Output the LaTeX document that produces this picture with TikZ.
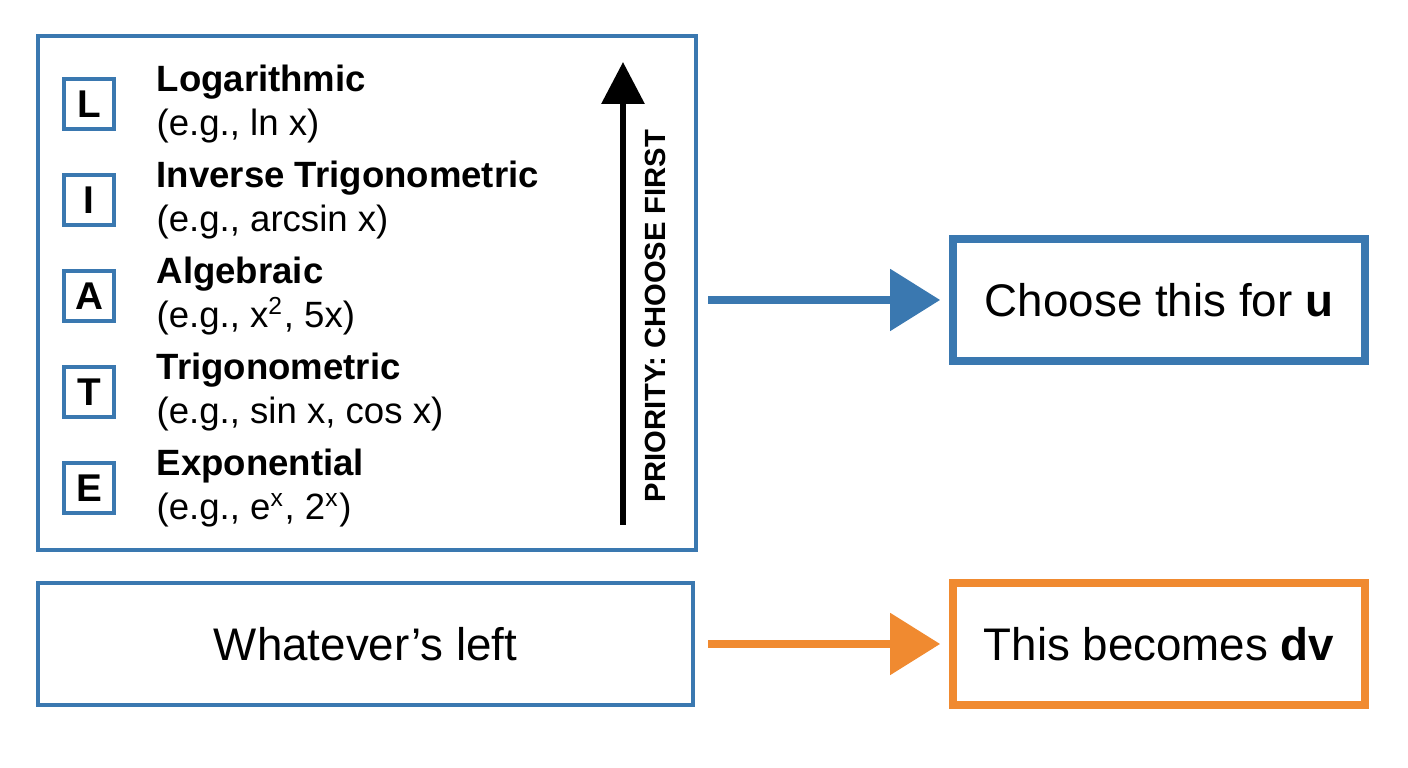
\documentclass[tikz,border=0pt]{standalone}
\usepackage{fontspec}
\setmainfont{Liberation Sans}
\usetikzlibrary{arrows.meta,positioning}
\definecolor{liateblue}{HTML}{3A78B0}
\definecolor{liateorange}{HTML}{F08A30}
\tikzset{
  letterbox/.style={draw=liateblue, line width=1.2pt, minimum size=0.5cm, inner sep=0pt, font=\fontsize{11}{13}\selectfont\bfseries},
  rulename/.style={anchor=west, align=left, inner sep=0pt, font=\fontsize{10.4}{12.5}\selectfont},
  resultbox/.style={line width=2.2pt, minimum width=4.12cm, minimum height=1.22cm, font=\fontsize{13}{15}\selectfont},
  bigarrow/.style={line width=2.4pt, shorten >=2.5pt, -{Triangle[length=0.5cm, width=0.6cm]}}
}
\begin{document}
\begin{tikzpicture}[x=0.01cm, y=0.01cm]
  \useasboundingbox (0,0) rectangle (1408,768);
  % LIATE panel
  \draw[liateblue, line width=1pt] (38,218) rectangle (696,732);
  \foreach \ltr/\name/\ex [count=\i from 0] in {L/Logarithmic/{(e.g., ln x)},
      I/Inverse Trigonometric/{(e.g., arcsin x)},
      A/Algebraic/{(e.g., x\textsuperscript{\scriptsize 2}, 5x)},
      T/Trigonometric/{(e.g., sin x, cos x)},
      E/Exponential/{(e.g., e\textsuperscript{\scriptsize x}, 2\textsuperscript{\scriptsize x})}} {
    \node[letterbox] (box\ltr) at (89,664-96*\i) {\ltr};
    \node[rulename] (rule\ltr) at (156,664-96*\i) {\textbf{\name}\\\ex};
  }
  % priority arrow
  \coordinate (prioBot) at (623,243);
  \coordinate (prioTop) at (623,706);
  \draw[line width=1.8pt, -{Triangle[length=0.42cm, width=0.42cm]}] (prioBot) -- (prioTop);
  \node[rotate=90, font=\fontsize{8.3}{10}\selectfont\bfseries] (prio) at (655,452) {PRIORITY: CHOOSE FIRST};
  % results
  \node[resultbox, draw=liateblue] (chooseU) at (1159,468) {Choose this for \textbf{u}};
  \node[resultbox, draw=liateorange] (becomesDv) at (1159,124) {This becomes \textbf{dv}};
  \node[draw=liateblue, line width=1pt, minimum width=6.55cm, minimum height=1.22cm, font=\fontsize{13}{15}\selectfont] (left) at (365.5,124) {Whatever’s left};
  \coordinate (uStart) at (708,468);
  \coordinate (dvStart) at (708,124);
  \draw[bigarrow, liateblue] (uStart) -- (chooseU.west);
  \draw[bigarrow, liateorange] (dvStart) -- (becomesDv.west);
\end{tikzpicture}
\end{document}
